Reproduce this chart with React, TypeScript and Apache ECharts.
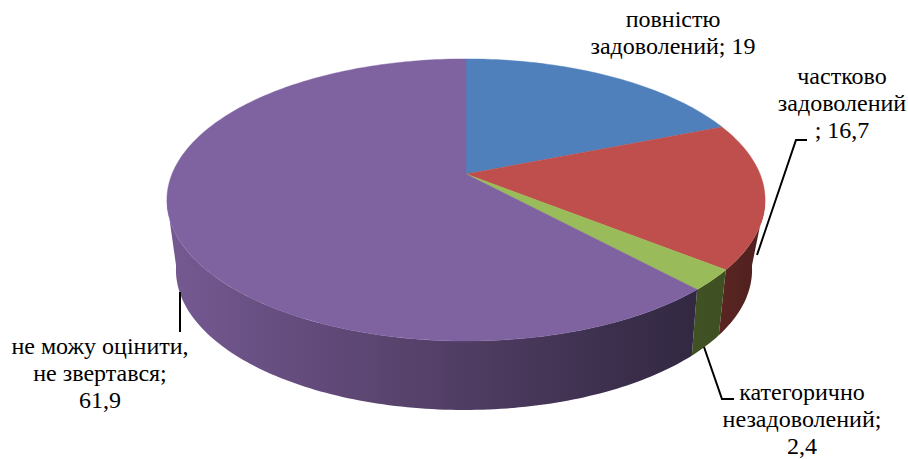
import React, { useEffect, useRef } from "react";
import * as echarts from "echarts";

const categories = ["повністю\nзадоволений", "частково\nзадоволений\n", "категорично\nнезадоволений;\n", "не можу оцінити,\nне звертався;\n"];
const separators = ["; ", "; ", "", ""];
const values = [19, 16.7, 2.4, 61.9];
const topColors = ["#4f80bc", "#be4f4c", "#9abb59", "#7f63a1"];
const wallColors = [
  [[0, "#2e4a6e"], [1, "#2e4a6e"]],
  [[0, "#4d201e"], [1, "#5a2522"]],
  [[0, "#3f5123"], [1, "#405224"]],
  [[0, "#322841"], [0.2, "#3f3150"], [0.5, "#544068"], [0.75, "#644c7d"], [1, "#755a92"]],
];

const labelLayout = [
  { x: 673, y: 5 },
  { x: 842, y: 62 },
  { x: 802, y: 378 },
  { x: 100, y: 332 },
];
const leaders = [
  [[757, 255], [796, 140], [807, 140]],
  [[704, 347], [722, 399], [734, 399]],
  [[180, 292], [180, 332]],
];

// Perspective projection of the pie's top and bottom discs
const topDisc = { cx: 466, y0: 174, A: 294, B: 136.3, k: 0.184 };
const bottomDisc = { cx: 464, y0: 239.2, A: 281, B: 133.2, k: 0.22 };

const project = (d: typeof topDisc, deg: number) => {
  const a = (deg * Math.PI) / 180;
  const u = Math.sin(a);
  const v = -Math.cos(a);
  const w = 1 - d.k * v;
  return [d.cx + (d.A * u) / w, d.y0 + (d.B * v) / w];
};

const arc = (d: typeof topDisc, from: number, to: number) => {
  const pts: number[][] = [];
  const n = Math.max(2, Math.ceil(Math.abs(to - from)));
  for (let i = 0; i <= n; i++) pts.push(project(d, from + ((to - from) * i) / n));
  return pts;
};

const VISIBLE_FROM = 101;
const VISIBLE_TO = 259;
const total = values.reduce((s, v) => s + v, 0);

const renderItem = (params: any, api: any) => {
  const idx = params.dataIndex;
  let before = 0;
  for (let i = 0; i < idx; i++) before += values[i];
  const start = (before / total) * 360;
  const end = ((before + api.value(0)) / total) * 360;
  const children: any[] = [];
  const wFrom = Math.max(start, VISIBLE_FROM);
  const wTo = Math.min(end, VISIBLE_TO);
  if (wTo > wFrom) {
    const pts = [...arc(topDisc, wFrom, wTo), ...arc(bottomDisc, wFrom, wTo).reverse()];
    children.push({
      type: "polygon",
      z2: 1,
      shape: { points: pts },
      style: {
        fill: new echarts.graphic.LinearGradient(
          1, 0, 0, 0,
          wallColors[idx].map(([offset, color]) => ({ offset: offset as number, color: color as string })),
        ),
      },
    });
  }
  const top = [[topDisc.cx, topDisc.y0], ...arc(topDisc, start, end)];
  children.push({
    type: "polygon",
    z2: 2,
    shape: { points: top },
    style: { fill: topColors[idx], stroke: topColors[idx], lineWidth: 0.4 },
  });
  return { type: "group", children };
};

const labelText = (i: number) => `${categories[i]}${separators[i]}${String(values[i]).replace(".", ",")}`;

export default function App() {
  const ref = useRef<HTMLDivElement>(null);
  useEffect(() => {
    const chart = echarts.init(ref.current!, undefined, { renderer: "svg" });
    chart.setOption({
      animation: false,
      backgroundColor: "#ffffff",
      series: [
        {
          type: "custom",
          coordinateSystem: "none",
          renderItem,
          silent: true,
          data: values.map((v) => [v]),
        },
      ],
      graphic: [
        ...leaders.map((points) => ({
          type: "polyline",
          z: 10,
          silent: true,
          shape: { points },
          style: { stroke: "#000000", lineWidth: 2, fill: "none" },
        })),
        ...values.map((_, i) => ({
          type: "text",
          z: 11,
          silent: true,
          x: labelLayout[i].x,
          y: labelLayout[i].y,
          style: {
            text: labelText(i),
            align: "center",
            verticalAlign: "top",
            fontFamily: "Liberation Serif",
            fontSize: 24,
            lineHeight: 27,
            fill: "#000000",
          },
        })),
      ],
    });
    return () => chart.dispose();
  }, []);
  return <div ref={ref} style={{ position: "fixed", left: 0, top: 0, width: 908, height: 459 }} />;
}
